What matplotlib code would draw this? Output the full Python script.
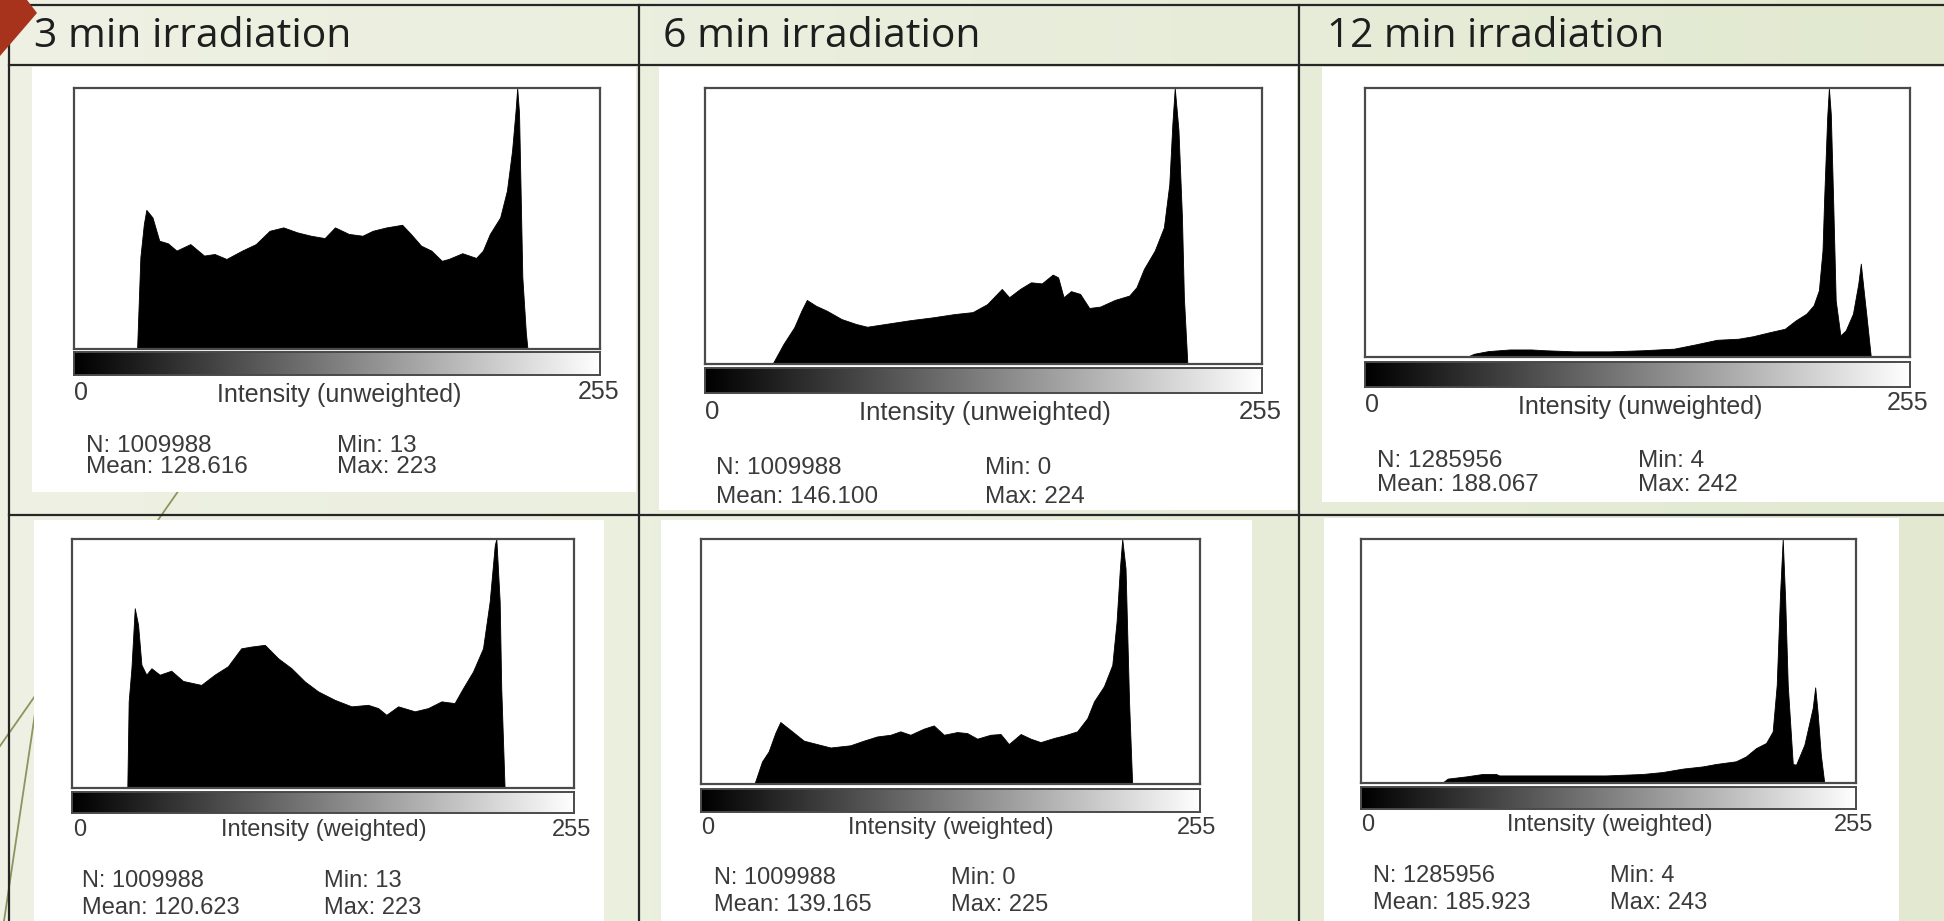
import numpy as np
import matplotlib
matplotlib.use("Agg")
import matplotlib.pyplot as plt
from matplotlib.patches import Rectangle, Polygon
from matplotlib.colors import LinearSegmentedColormap

# ---------------- data ----------------
titles = ["3 min irradiation", "6 min irradiation", "12 min irradiation"]
axis_labels = ["Intensity (unweighted)", "Intensity (unweighted)", "Intensity (unweighted)",
               "Intensity (weighted)", "Intensity (weighted)", "Intensity (weighted)"]
tick_lo = "0"
tick_hi = "255"
n_vals = ["1009988", "1009988", "1285956", "1009988", "1009988", "1285956"]
mean_vals = ["128.616", "146.100", "188.067", "120.623", "139.165", "185.923"]
min_vals = ["13", "0", "4", "13", "0", "4"]
max_vals = ["223", "224", "242", "223", "225", "243"]

# histogram outlines (intensity, relative count)
h1_x = [30.7, 32.3, 34.0, 35.2, 38.2, 41.5, 45.7, 49.9, 56.6, 63.3, 68.4, 74.2, 81.8, 88.5, 95.2,
        101.9, 108.6, 115.3, 122.0, 127.0, 133.7, 140.4, 145.4, 152.1, 159.7, 163.9, 168.9, 173.9,
        179.0, 182.3, 189.0, 195.7, 199.0, 202.4, 207.4, 210.7, 213.2, 214.9, 215.7, 216.6, 218.2,
        219.9, 220.7]
h1_y = [0, 0.352, 0.479, 0.533, 0.504, 0.415, 0.405, 0.377, 0.402, 0.358, 0.364, 0.345, 0.377, 0.402,
        0.453, 0.466, 0.447, 0.434, 0.425, 0.466, 0.441, 0.434, 0.453, 0.466, 0.476, 0.441, 0.396,
        0.377, 0.338, 0.345, 0.367, 0.349, 0.377, 0.441, 0.504, 0.607, 0.760, 0.913, 1.0, 0.904,
        0.275, 0.064, 0]

h2_x = [31.0, 36.0, 41.0, 44.3, 46.8, 51.0, 56.0, 62.7, 69.4, 74.5, 84.5, 94.5, 104.6, 114.7, 123.0,
        129.7, 136.4, 139.8, 144.8, 149.8, 154.8, 159.8, 162.3, 164.8, 168.2, 172.4, 176.6, 181.6,
        188.3, 195.0, 198.3, 201.7, 206.7, 210.9, 213.4, 214.8, 215.9, 217.6, 219.2, 220.1, 221.7]
h2_y = [0, 0.072, 0.133, 0.193, 0.232, 0.211, 0.193, 0.163, 0.145, 0.135, 0.147, 0.159, 0.169, 0.181,
        0.188, 0.217, 0.272, 0.242, 0.272, 0.296, 0.292, 0.324, 0.314, 0.242, 0.264, 0.254, 0.203,
        0.208, 0.232, 0.248, 0.278, 0.344, 0.411, 0.495, 0.652, 0.870, 1.0, 0.848, 0.534, 0.242, 0]

h3_x = [47.8, 51.2, 57.9, 68.0, 78.1, 84.8, 98.2, 115.0, 130.1, 145.2, 155.3, 165.3, 175.4, 182.1,
        190.5, 197.2, 202.3, 207.3, 210.7, 213.2, 214.9, 215.7, 217.1, 217.9, 218.8, 219.9, 221.1,
        223.3, 225.8, 229.2, 231.7, 232.9, 233.9, 235.6, 237.6]
h3_y = [0, 0.012, 0.022, 0.028, 0.028, 0.025, 0.021, 0.021, 0.025, 0.031, 0.047, 0.064, 0.068, 0.077,
        0.093, 0.105, 0.136, 0.161, 0.192, 0.248, 0.396, 0.594, 0.891, 1.0, 0.903, 0.582, 0.210,
        0.080, 0.099, 0.161, 0.272, 0.347, 0.272, 0.149, 0]

h4_x = [28.2, 28.9, 30.3, 32.0, 33.7, 35.4, 37.9, 40.5, 44.7, 50.6, 56.6, 65.9, 72.7, 79.5, 86.3,
        91.4, 98.3, 105.1, 111.9, 118.7, 125.5, 134.0, 142.5, 151.0, 156.1, 160.3, 166.3, 174.8,
        181.6, 188.4, 195.1, 199.4, 204.5, 209.6, 213.0, 215.6, 216.4, 218.1, 218.9, 220.6]
h4_y = [0, 0.348, 0.481, 0.722, 0.655, 0.495, 0.455, 0.481, 0.455, 0.471, 0.430, 0.414, 0.455, 0.489,
        0.561, 0.568, 0.575, 0.521, 0.481, 0.428, 0.388, 0.354, 0.328, 0.334, 0.321, 0.294, 0.328,
        0.308, 0.321, 0.348, 0.341, 0.401, 0.468, 0.561, 0.749, 0.976, 1.0, 0.749, 0.401, 0]

h5_x = [27.4, 31.3, 34.7, 38.1, 40.7, 45.8, 52.7, 59.5, 66.4, 76.6, 83.5, 90.3, 97.2, 102.3, 107.4,
        114.3, 119.4, 124.6, 131.4, 136.5, 141.7, 148.5, 153.7, 157.9, 164.0, 169.1, 174.2, 181.1,
        186.2, 193.0, 198.2, 201.6, 206.7, 211.0, 213.2, 214.9, 216.1, 217.8, 219.6, 221.2]
h5_y = [0, 0.092, 0.133, 0.208, 0.253, 0.221, 0.177, 0.163, 0.149, 0.158, 0.177, 0.194, 0.201, 0.215,
        0.201, 0.226, 0.239, 0.201, 0.212, 0.208, 0.185, 0.201, 0.204, 0.163, 0.204, 0.185, 0.171,
        0.188, 0.198, 0.215, 0.269, 0.337, 0.399, 0.486, 0.663, 0.880, 1.0, 0.880, 0.337, 0]

h6_x = [41.9, 44.8, 54.3, 62.9, 69.8, 71.5, 92.2, 109.4, 126.7, 145.7, 156.0, 166.4, 176.7, 183.6,
        193.9, 199.1, 204.3, 209.5, 212.9, 215.0, 216.7, 218.1, 219.4, 220.7, 223.3, 225.0, 229.3,
        233.6, 234.9, 236.1, 237.8, 239.6]
h6_y = [0, 0.018, 0.027, 0.037, 0.037, 0.031, 0.031, 0.031, 0.031, 0.037, 0.045, 0.059, 0.068, 0.078,
        0.089, 0.109, 0.143, 0.164, 0.211, 0.402, 0.771, 1.0, 0.744, 0.402, 0.078, 0.075, 0.157,
        0.307, 0.392, 0.293, 0.116, 0]

hists = [(h1_x, h1_y), (h2_x, h2_y), (h3_x, h3_y), (h4_x, h4_y), (h5_x, h5_y), (h6_x, h6_y)]

# ---------------- layout (pixels, top-left origin) ----------------
W, H = 1944, 921
layout = [
    dict(box=(74, 88, 600, 349), grad=(74, 352, 600, 375), zero=(74, 393), hi=(619, 392),
         lab=(339, 395), n=(86, 446), mean_y=467, minx=337, fl=18, fs=17.5),
    dict(box=(705, 88, 1262, 364), grad=(705, 368, 1262, 393), zero=(705, 412), hi=(1282, 412),
         lab=(985, 413), n=(716, 468), mean_y=497, minx=985, fl=18.5, fs=17.5),
    dict(box=(1365, 88, 1910, 357), grad=(1365, 362, 1910, 387), zero=(1365, 405), hi=(1928, 403),
         lab=(1640, 407), n=(1377, 461), mean_y=485, minx=1638, fl=18, fs=17.5),
    dict(box=(72, 539, 574, 788), grad=(72, 792, 574, 813), zero=(73, 830), hi=(591, 830),
         lab=(324, 830), n=(82, 881), mean_y=908, minx=324, fl=17, fs=17),
    dict(box=(701, 539, 1200, 784), grad=(701, 789, 1200, 812), zero=(701, 828), hi=(1216, 828),
         lab=(951, 828), n=(714, 878), mean_y=905, minx=951, fl=17, fs=17),
    dict(box=(1361, 539, 1856, 783), grad=(1361, 787, 1856, 809), zero=(1361, 825), hi=(1873, 825),
         lab=(1610, 825), n=(1373, 876), mean_y=903, minx=1610, fl=17, fs=17),
]
white_panels = [(32, 67, 636, 492), (659, 67, 1297, 510), (1322, 67, 1944, 502),
                (34, 520, 604, 921), (661, 520, 1252, 921), (1324, 518, 1899, 921)]
title_pos = [(34, 37), (663, 37), (1327, 37)]
title_width = [316, 316, 337]

fig = plt.figure(figsize=(W / 100, H / 100), dpi=100)

def pax(x0, y0, x1, y1):
    return fig.add_axes([x0 / W, 1 - y1 / H, (x1 - x0) / W, (y1 - y0) / H])

bg = fig.add_axes([0, 0, 1, 1])
bg.set_xlim(0, W)
bg.set_ylim(H, 0)
bg.axis("off")

bgcmap = LinearSegmentedColormap.from_list("bg", ["#EEF1E3", "#E9EEDC", "#E2E9D0"])
bg.imshow(np.linspace(0, 1, 256).reshape(1, -1), cmap=bgcmap, extent=[0, W, H, 0],
          aspect="auto", zorder=0)

# decorative diagonal lines (beneath panels)
bg.plot([200, 0], [460, 746], color="#8E9360", lw=1.3, zorder=0.5)
bg.plot([46, 4], [640, 921], color="#8E9360", lw=1.3, zorder=0.5)

for (x0, y0, x1, y1) in white_panels:
    bg.add_patch(Rectangle((x0, y0), x1 - x0, y1 - y0, fc="white", ec="none", zorder=1))

# table lines
lc = "#262626"
lw = 1.6
bg.plot([9, W], [5, 5], color=lc, lw=lw, zorder=3)
bg.plot([9, W], [65, 65], color=lc, lw=lw, zorder=3)
bg.plot([9, W], [515, 515], color=lc, lw=lw, zorder=3)
for xv in [9, 639, 1299]:
    bg.plot([xv, xv], [5, H], color=lc, lw=lw, zorder=3)

# red corner marker
bg.add_patch(Polygon([(0, 0), (27, 0), (37, 13), (0, 56)], closed=True,
                     fc="#A8331C", ec="none", zorder=4))

title_objs = []
for t, (tx, ty) in zip(titles, title_pos):
    title_objs.append(bg.text(tx, ty, t, fontsize=28, family=["Open Sans", "DejaVu Sans"],
                              color="#1e1e1e", ha="left", va="center", zorder=5))

txt_font = ["Liberation Sans", "DejaVu Sans"]
tcol = "#3a3a3a"
ramp = np.linspace(0, 1, 256).reshape(1, -1)

for i, L in enumerate(layout):
    hx, hy = hists[i]
    ax = pax(*L["box"])
    ax.fill_between(hx, hy, 0, color="black", lw=0.6, edgecolor="black")
    ax.set_xlim(0, 256)
    ax.set_ylim(0, 1.0)
    ax.set_xticks([])
    ax.set_yticks([])
    for s in ax.spines.values():
        s.set_color("#4a4a4a")
        s.set_linewidth(1.6)

    ga = pax(*L["grad"])
    ga.imshow(ramp, cmap="gray", aspect="auto", extent=[0, 256, 0, 1])
    ga.set_xticks([])
    ga.set_yticks([])
    for s in ga.spines.values():
        s.set_color("#4a4a4a")
        s.set_linewidth(1.4)

    bg.text(L["zero"][0], L["zero"][1], tick_lo, fontsize=L["fl"], family=txt_font, color=tcol,
            ha="left", va="center", zorder=5)
    bg.text(L["hi"][0], L["hi"][1], tick_hi, fontsize=L["fl"], family=txt_font, color=tcol,
            ha="right", va="center", zorder=5)
    bg.text(L["lab"][0], L["lab"][1], axis_labels[i], fontsize=L["fl"], family=txt_font,
            color=tcol, ha="center", va="center", zorder=5)
    bg.text(L["n"][0], L["n"][1], "N: " + n_vals[i], fontsize=L["fs"], family=txt_font,
            color=tcol, ha="left", va="center", zorder=5)
    bg.text(L["n"][0], L["mean_y"], "Mean: " + mean_vals[i], fontsize=L["fs"], family=txt_font,
            color=tcol, ha="left", va="center", zorder=5)
    bg.text(L["minx"], L["n"][1], "Min: " + min_vals[i], fontsize=L["fs"], family=txt_font,
            color=tcol, ha="left", va="center", zorder=5)
    bg.text(L["minx"], L["mean_y"], "Max: " + max_vals[i], fontsize=L["fs"], family=txt_font,
            color=tcol, ha="left", va="center", zorder=5)

# fit title sizes to the measured widths
fig.canvas.draw()
r = fig.canvas.get_renderer()
for tobj, tw in zip(title_objs, title_width):
    w = tobj.get_window_extent(renderer=r).width
    tobj.set_fontsize(tobj.get_fontsize() * tw / w)

fig.savefig("out.png", dpi=100)
